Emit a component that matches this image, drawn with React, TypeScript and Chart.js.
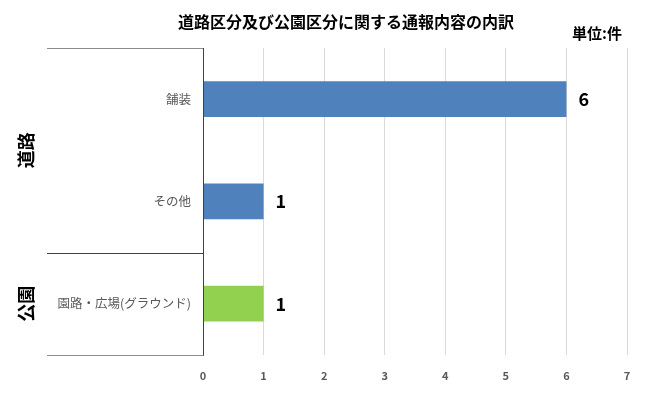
import React, { useEffect, useRef } from "react";
import { Chart, registerables } from "chart.js";

Chart.register(...registerables);

const titleText = "道路区分及び公園区分に関する通報内容の内訳";
const unitText = "単位:件";
const categories = ["舗装", "その他", "園路・広場(グラウンド)"];
const values = [6, 1, 1];
const barColors = ["#4f81bd", "#4f81bd", "#92d050"];
const groupLabels = ["道路", "公園"];
const groupSizes = [2, 1];
const xMax = 7;

const JP = "'Noto Sans CJK JP', 'Noto Sans', sans-serif";

export default function App() {
  const ref = useRef<HTMLCanvasElement | null>(null);
  useEffect(() => {
    if (!ref.current) return;
    const decor = {
      id: "decor",
      afterDraw(chart: any) {
        const ctx = chart.ctx;
        const area = chart.chartArea;
        const ys = chart.scales.y;
        const xs = chart.scales.x;
        ctx.save();
        // title
        ctx.fillStyle = "#000";
        ctx.font = `bold 16px ${JP}`;
        ctx.textAlign = "center";
        ctx.textBaseline = "middle";
        ctx.fillText(titleText, 346, 22);
        ctx.font = `bold 15px ${JP}`;
        ctx.textAlign = "right";
        ctx.fillText(unitText, 622, 33);
        // group separators
        const half = (ys.getPixelForValue(1) - ys.getPixelForValue(0)) / 2;
        const bounds: number[] = [area.top];
        let idx = 0;
        groupSizes.forEach((n) => {
          idx += n;
          bounds.push(idx >= categories.length ? area.bottom : ys.getPixelForValue(idx - 1) + half);
        });
        bounds.forEach((b, i) => {
          ctx.strokeStyle = i === 0 || i === bounds.length - 1 ? "#8c8c8c" : "#404040";
          ctx.lineWidth = 1;
          ctx.beginPath();
          ctx.moveTo(47, Math.round(b) + 0.5);
          ctx.lineTo(area.left, Math.round(b) + 0.5);
          ctx.stroke();
        });
        // vertical axis line
        ctx.strokeStyle = "#404040";
        ctx.beginPath();
        ctx.moveTo(Math.round(area.left) + 0.5, area.top);
        ctx.lineTo(Math.round(area.left) + 0.5, area.bottom + 1);
        ctx.stroke();
        // group labels (rotated)
        ctx.font = `bold 18px ${JP}`;
        ctx.fillStyle = "#000";
        ctx.textAlign = "center";
        ctx.textBaseline = "middle";
        groupLabels.forEach((g, i) => {
          const cy = (bounds[i] + bounds[i + 1]) / 2;
          ctx.save();
          ctx.translate(26, cy);
          ctx.rotate(-Math.PI / 2);
          ctx.fillText(g, 0, 0);
          ctx.restore();
        });
        // data labels
        ctx.font = `bold 18px ${JP}`;
        ctx.textAlign = "left";
        values.forEach((v, i) => {
          const x = xs.getPixelForValue(v) + 12;
          const y = ys.getPixelForValue(i);
          ctx.fillText(String(v), x, y);
        });
        ctx.restore();
      },
    };
    const chart = new Chart(ref.current, {
      type: "bar",
      data: {
        labels: categories,
        datasets: [
          {
            data: values,
            backgroundColor: barColors,
            categoryPercentage: 1,
            barPercentage: 0.35,
          },
        ],
      },
      options: {
        indexAxis: "y",
        responsive: false,
        animation: false,
        layout: { padding: { top: 48, right: 23, bottom: 1, left: 0 } },
        plugins: { legend: { display: false }, tooltip: { enabled: false }, title: { display: false } },
        scales: {
          x: {
            min: 0,
            max: xMax,
            ticks: {
              stepSize: 1,
              padding: 14,
              color: "#595959",
              font: { family: JP, size: 11, weight: "bold" },
            },
            grid: { color: "#d9d9d9", drawTicks: false },
            border: { display: false },
          },
          y: {
            afterFit(scale: any) {
              scale.width = 203;
            },
            ticks: {
              padding: 12,
              color: "#595959",
              font: { family: JP, size: 12.5 },
            },
            grid: { display: false, drawTicks: false },
            border: { display: false },
          },
        },
      },
      plugins: [decor],
    } as any);
    return () => chart.destroy();
  }, []);
  return (
    <div style={{ position: "absolute", left: 0, top: 0, width: 650, height: 397, background: "#fff" }}>
      <canvas ref={ref} width={650} height={397} style={{ width: 650, height: 397 }} />
    </div>
  );
}
